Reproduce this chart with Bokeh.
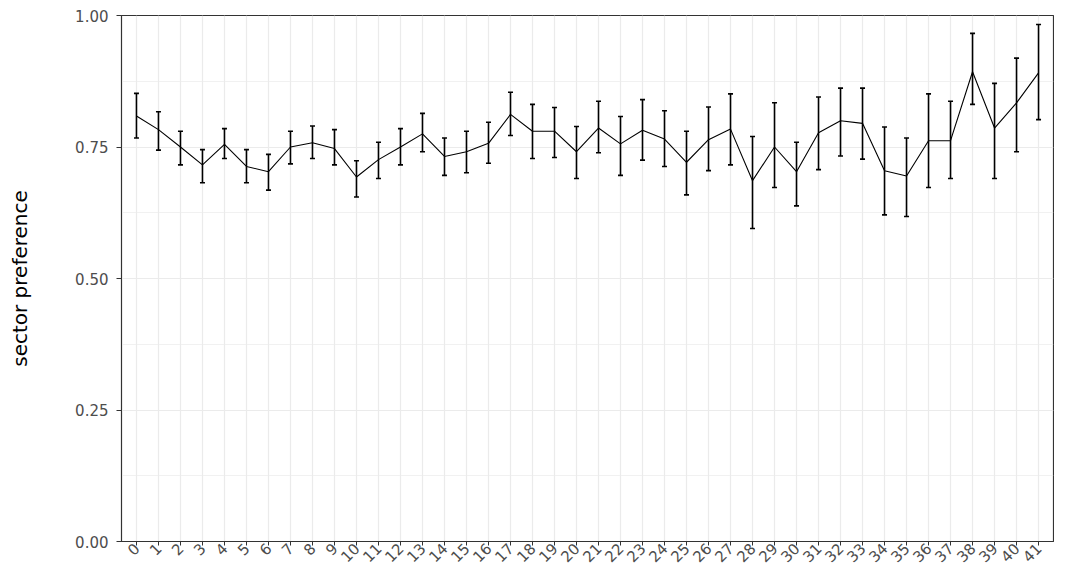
import math
from bokeh.plotting import figure
from bokeh.models import ColumnDataSource, Whisker, TeeHead, FixedTicker, Range1d
from bokeh.embed import file_html
from bokeh.resources import INLINE

# ---- data ----
sector = list(range(42))
preference = [0.809, 0.783, 0.750, 0.716, 0.755, 0.713, 0.703, 0.750, 0.758, 0.747,
              0.693, 0.726, 0.750, 0.775, 0.732, 0.741, 0.757, 0.812, 0.780, 0.780,
              0.741, 0.786, 0.756, 0.782, 0.765, 0.721, 0.764, 0.784, 0.686, 0.750,
              0.703, 0.777, 0.800, 0.795, 0.705, 0.695, 0.762, 0.762, 0.893, 0.786,
              0.834, 0.891]
upper = [0.852, 0.817, 0.780, 0.745, 0.785, 0.745, 0.736, 0.780, 0.790, 0.783,
         0.724, 0.759, 0.785, 0.814, 0.767, 0.780, 0.797, 0.854, 0.831, 0.825,
         0.789, 0.837, 0.808, 0.840, 0.819, 0.780, 0.826, 0.851, 0.770, 0.834,
         0.759, 0.845, 0.862, 0.862, 0.788, 0.767, 0.851, 0.837, 0.966, 0.871,
         0.919, 0.983]
lower = [0.767, 0.744, 0.716, 0.682, 0.728, 0.682, 0.668, 0.718, 0.728, 0.716,
         0.655, 0.690, 0.716, 0.741, 0.696, 0.701, 0.719, 0.772, 0.728, 0.730,
         0.690, 0.739, 0.696, 0.725, 0.713, 0.659, 0.705, 0.716, 0.595, 0.673,
         0.638, 0.707, 0.733, 0.727, 0.621, 0.618, 0.673, 0.690, 0.831, 0.690,
         0.741, 0.802]
x_tick_labels = [str(s) for s in sector]
y_ticks = [0.0, 0.25, 0.5, 0.75, 1.0]
y_tick_labels = ["0.00", "0.25", "0.50", "0.75", "1.00"]
y_minor_ticks = [0.125, 0.375, 0.625, 0.875]
y_label = "sector preference"

src = ColumnDataSource(dict(x=sector, y=preference, upper=upper, lower=lower))

FONT = "DejaVu Sans"

p = figure(width=1054, height=570, output_backend="svg", toolbar_location=None,
           x_range=Range1d(-0.68, 41.68), y_range=Range1d(0, 1),
           min_border_left=121, min_border_right=1, min_border_top=15, min_border_bottom=20)
p.background_fill_color = "white"
p.border_fill_color = "white"
p.outline_line_color = "#333333"
p.outline_line_width = 1.2

# grid
p.xgrid.ticker = FixedTicker(ticks=sector)
p.xgrid.grid_line_color = "#EBEBEB"
p.xgrid.grid_line_width = 1.2
p.ygrid.ticker = FixedTicker(ticks=y_ticks, minor_ticks=y_minor_ticks)
p.ygrid.grid_line_color = "#EBEBEB"
p.ygrid.grid_line_width = 1.2
p.ygrid.minor_grid_line_color = "#EBEBEB"
p.ygrid.minor_grid_line_width = 0.7

# axes
for ax in (p.xaxis[0], p.yaxis[0]):
    ax.axis_line_color = "#333333"
    ax.major_tick_line_color = "#333333"
    ax.major_tick_out = 5
    ax.major_tick_in = 0
    ax.minor_tick_line_color = None
    ax.major_label_text_font = FONT
    ax.major_label_text_font_size = "15px"
    ax.major_label_text_color = "#4D4D4D"

p.xaxis.ticker = FixedTicker(ticks=sector)
p.xaxis.major_label_overrides = {s: l for s, l in zip(sector, x_tick_labels)}
p.xaxis.major_label_orientation = math.pi / 4
p.xaxis.major_label_standoff = 0
p.xaxis.major_tick_out = 4

p.yaxis.ticker = FixedTicker(ticks=y_ticks)
p.yaxis.major_label_overrides = {t: l for t, l in zip(y_ticks, y_tick_labels)}
p.yaxis.major_label_standoff = 8
p.yaxis.axis_label = y_label
p.yaxis.axis_label_text_font = FONT
p.yaxis.axis_label_text_font_size = "20px"
p.yaxis.axis_label_text_font_style = "normal"
p.yaxis.axis_label_text_color = "black"
p.yaxis.axis_label_standoff = 40

# line + error bars
p.line("x", "y", source=src, line_color="black", line_width=1.1)
wh = Whisker(source=src, base="x", upper="upper", lower="lower",
             line_color="black", line_width=1.6,
             upper_head=TeeHead(size=5, line_color="black", line_width=1.6),
             lower_head=TeeHead(size=5, line_color="black", line_width=1.6))
p.add_layout(wh)

open("out.html", "w").write(file_html(p, INLINE))
